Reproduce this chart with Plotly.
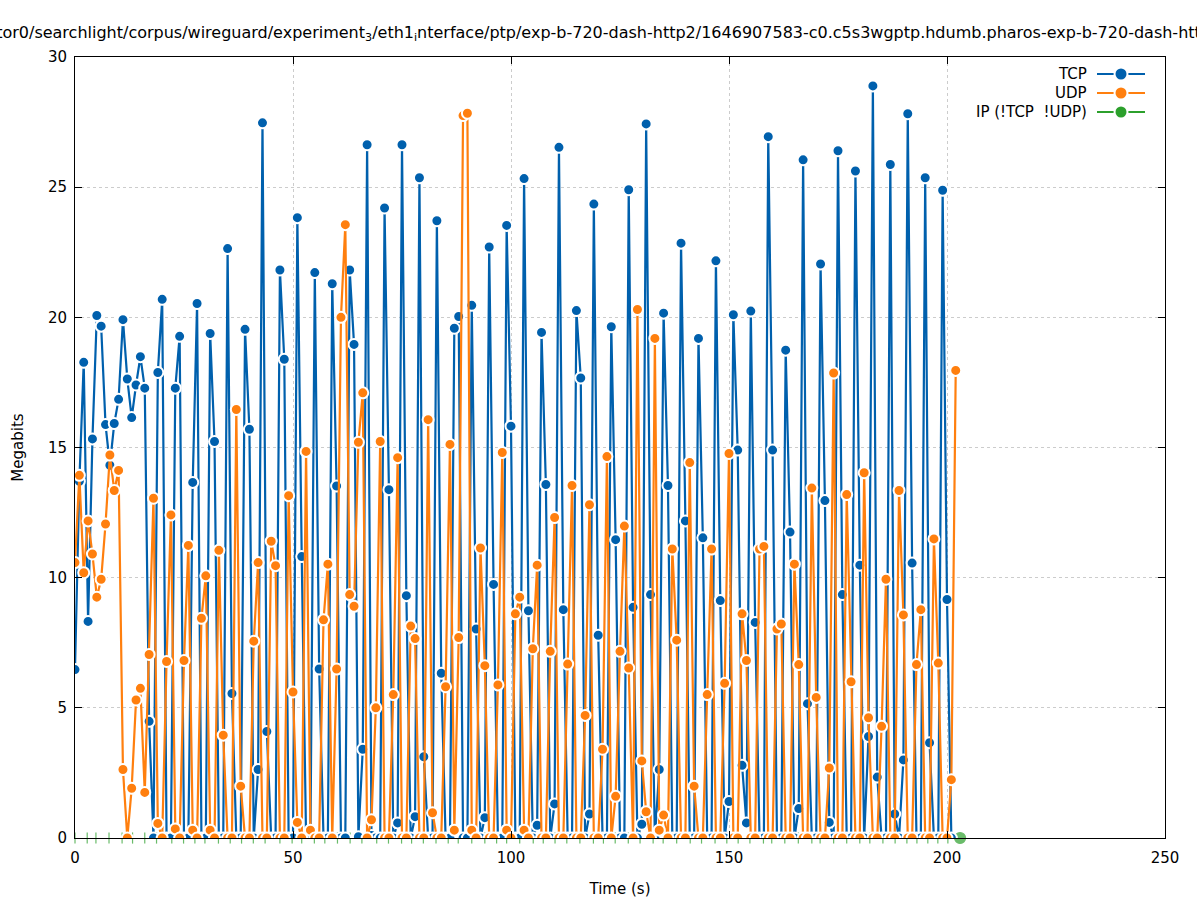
import plotly.graph_objects as go

# ---------------- data ----------------
tcp_time = list(range(0, 202))
tcp_mbits = [
    6.47, 13.7, 18.27, 8.32, 15.33, 20.07, 19.66, 15.88, 14.32, 15.92,
    16.85, 19.91, 17.63, 16.15, 17.4, 18.49, 17.28, 4.48, 0, 17.88,
    20.69, 0, 0, 17.28, 19.27, 0, 0, 13.66, 20.53, 0,
    0, 19.38, 15.23, 0, 0, 22.64, 5.55, 0, 0, 19.54,
    15.70, 0, 2.63, 27.47, 4.09, 0, 0, 21.82, 18.39, 0,
    0, 23.83, 10.81, 0, 0, 21.72, 6.49, 0, 0, 21.29,
    13.52, 0, 0, 21.82, 18.96, 0.05, 3.41, 26.63, 0.1, 0,
    0, 24.2, 13.38, 0, 0.58, 26.63, 9.31, 0, 0.82, 25.36,
    3.12, 0, 0, 23.71, 6.33, 0, 0, 19.58, 20.03, 0,
    0, 20.46, 8.03, 0, 0.78, 22.70, 9.74, 0, 0, 23.53,
    15.82, 0, 0, 25.33, 8.73, 0, 0.49, 19.42, 13.58, 0,
    1.31, 26.53, 8.77, 0, 0, 20.26, 17.67, 0, 0.92, 24.35,
    7.79, 0, 0, 19.64, 11.46, 0, 0, 24.90, 8.86, 0,
    0.53, 27.43, 9.35, 0, 2.63, 20.16, 13.54, 0, 0, 22.85,
    12.18, 0, 0, 19.19, 11.53, 0, 0, 22.17, 9.12, 0,
    1.4, 20.1, 14.9, 2.79, 0.58, 20.24, 8.28, 0, 0, 26.94,
    14.9, 0, 0, 18.74, 11.75, 0, 1.13, 26.05, 5.16, 0,
    0, 22.05, 12.96, 0.6, 0, 26.4, 9.35, 0, 0, 25.62,
    10.48, 0, 3.9, 28.89, 2.34, 0, 0, 25.87, 0.92, 0,
    3.0, 27.82, 10.56, 0, 0, 25.36, 3.66, 0, 0, 24.88,
    9.16, 0,
]

udp_time = list(range(0, 203))
udp_mbits = [
    10.58, 13.93, 10.19, 12.18, 10.91, 9.25, 9.94, 12.06, 14.71, 13.35,
    14.12, 2.63, 0, 1.91, 5.30, 5.75, 1.75, 7.05, 13.05, 0.56,
    0, 6.78, 12.41, 0.35, 0, 6.82, 11.24, 0.3, 0, 8.44,
    10.07, 0.3, 0, 11.05, 3.95, 0, 0, 16.46, 1.99, 0,
    0, 7.56, 10.58, 0, 0, 11.40, 10.46, 0, 0, 13.15,
    5.61, 0.6, 0, 14.85, 0.3, 0, 0, 8.38, 10.52, 0,
    6.49, 20.0, 23.56, 9.35, 8.90, 15.2, 17.1, 0, 0.7, 5.0,
    15.23, 0, 0, 5.51, 14.61, 0, 0, 8.14, 7.66, 0,
    0, 16.07, 0.97, 0, 0, 5.81, 15.12, 0.3, 7.70, 27.75,
    27.84, 0.3, 0, 11.14, 6.62, 0, 0, 5.88, 14.81, 0.3,
    0, 8.61, 9.25, 0.3, 0, 7.27, 10.48, 0, 0, 7.17,
    12.31, 0, 0, 6.68, 13.54, 0, 0, 4.71, 12.8, 0,
    0, 3.41, 14.65, 0, 1.6, 7.17, 11.98, 6.53, 0, 20.3,
    2.96, 1.01, 0, 19.19, 0.3, 0.88, 0, 11.1, 7.6, 0,
    0, 14.42, 1.99, 0, 0, 5.51, 11.1, 0, 0, 5.94,
    14.77, 0, 0, 8.61, 6.82, 0, 0, 11.1, 11.2, 0,
    0, 8.03, 8.22, 0, 0, 10.52, 6.66, 0, 0, 13.44,
    5.4, 0, 0, 2.69, 17.86, 0, 0, 13.19, 6.0, 0,
    0, 14.03, 4.62, 0, 0, 4.29, 9.94, 0, 0, 13.35,
    8.57, 0, 0, 6.66, 8.77, 0, 0, 11.49, 6.72, 0,
    0, 2.24, 17.96,
]

ip_time = [
    0.0, 2.8, 4.8, 7.8, 10.8, 13.2, 16.0, 18.7, 22.2, 24.9, 27.5, 29.8,
    32.9, 35.6, 38.2, 40.9, 43.6, 47.0, 49.8, 52.0, 54.9, 57.3, 60.2, 63.1,
    65.8, 69.2, 71.9, 74.9, 77.2, 79.9, 82.8, 85.6, 87.9, 91.0, 94.0, 96.7,
    99.0, 102.0, 105.1, 107.4, 110.1, 112.8, 115.8, 118.9, 121.2, 123.9,
    126.9, 129.6, 132.6, 134.9, 138.0, 141.1, 143.7, 146.8, 149.5, 152.1,
    154.8, 157.9, 159.8, 162.8, 165.9, 169.0, 170.9, 174.0, 177.0, 180.0,
    182.3, 185.3, 188.1, 190.8, 193.1, 195.6, 197.9, 200.2, 203.0,
]
ip_mbits = [0] * len(ip_time)

series_names = ["TCP", "UDP", "IP (!TCP  !UDP)"]
series_colors = ["#0060ad", "#ff7f0e", "#2ca02c"]

title_text = ("tor0/searchlight/corpus/wireguard/experiment<sub>3</sub>/eth1<sub>i</sub>nterface/ptp/"
              "exp-b-720-dash-http2/1646907583-c0.c5s3wgptp.hdumb.pharos-exp-b-720-dash-htt")

FONT = "DejaVu Sans"

fig = go.Figure()

# IP series first (underneath): tiny slivers at zero, final point fully visible
n_ip = len(ip_time)
fig.add_trace(go.Scatter(
    x=ip_time, y=ip_mbits, mode="markers", name=series_names[2],
    marker=dict(color=series_colors[2], size=[8] * (n_ip - 1) + [11],
                symbol=["line-ns"] * (n_ip - 1) + ["circle"],
                line=dict(color=series_colors[2], width=1.2)),
    cliponaxis=False, showlegend=False,
))

for name, color, xs, ys in [
    (series_names[0], series_colors[0], tcp_time, tcp_mbits),
    (series_names[1], series_colors[1], udp_time, udp_mbits),
]:
    fig.add_trace(go.Scatter(
        x=xs, y=ys, mode="lines+markers", name=name,
        line=dict(color=color, width=2.2),
        marker=dict(color=color, size=11, line=dict(color="white", width=2)),
        showlegend=False,
    ))

# manual legend (gnuplot style: text then sample)
L, R, T, B = 75, 1165, 57, 838
W, H = R - L, B - T


def px(x):
    return (x - L) / W


def py(y):
    return (B - y) / H


annotations = []
shapes = []
for i, (name, color) in enumerate(zip(series_names, series_colors)):
    yy = 74 + i * 19
    annotations.append(dict(
        x=px(1089), y=py(yy), xref="paper", yref="paper", text=name,
        showarrow=False, xanchor="right", yanchor="middle",
        font=dict(family=FONT, size=15, color="black")))
    shapes.append(dict(type="line", xref="paper", yref="paper",
                       x0=px(1097), x1=px(1145), y0=py(yy), y1=py(yy),
                       line=dict(color=color, width=2)))
    shapes.append(dict(type="circle", xref="paper", yref="paper",
                       x0=px(1121 - 7.5), x1=px(1121 + 7.5), y0=py(yy + 7.5), y1=py(yy - 7.5),
                       fillcolor="white", line=dict(color="white", width=0)))
    shapes.append(dict(type="circle", xref="paper", yref="paper",
                       x0=px(1121 - 5.5), x1=px(1121 + 5.5), y0=py(yy + 5.5), y1=py(yy - 5.5),
                       fillcolor=color, line=dict(color=color, width=0)))

axis_common = dict(
    showline=True, linecolor="black", linewidth=1, mirror="allticks",
    ticks="inside", ticklen=7, tickcolor="black", automargin=False,
    showgrid=True, gridcolor="#cccccc", griddash="dot", gridwidth=1,
    zeroline=False, tickfont=dict(family=FONT, size=15, color="black"),
)

fig.update_layout(
    width=1197, height=900,
    margin=dict(l=L, r=1197 - R, t=T, b=900 - B, autoexpand=False),
    paper_bgcolor="white", plot_bgcolor="white",
    font=dict(family=FONT, color="black"),
    title=dict(text=title_text, x=0.5, xanchor="center", y=1 - 32 / 900, yanchor="middle",
               yref="container", automargin=False,
               font=dict(family=FONT, size=16, color="black")),
    xaxis=dict(range=[0, 250], dtick=50, ticklabelstandoff=6,
               title=dict(text="Time (s)", standoff=17, font=dict(family=FONT, size=15)),
               **axis_common),
    yaxis=dict(range=[0, 30], dtick=5, ticklabelstandoff=4,
               title=dict(text="Megabits", standoff=20, font=dict(family=FONT, size=15)),
               **axis_common),
    annotations=annotations, shapes=shapes,
)

fig.write_html("out.html", config={"displayModeBar": False})

# remove the default page margin so the figure sits at the window's corner
with open("out.html", "r", encoding="utf-8") as f:
    html = f.read()
html = html.replace("<head>", "<head><style>html,body{margin:0;padding:0;overflow:hidden;}</style>", 1)
with open("out.html", "w", encoding="utf-8") as f:
    f.write(html)
